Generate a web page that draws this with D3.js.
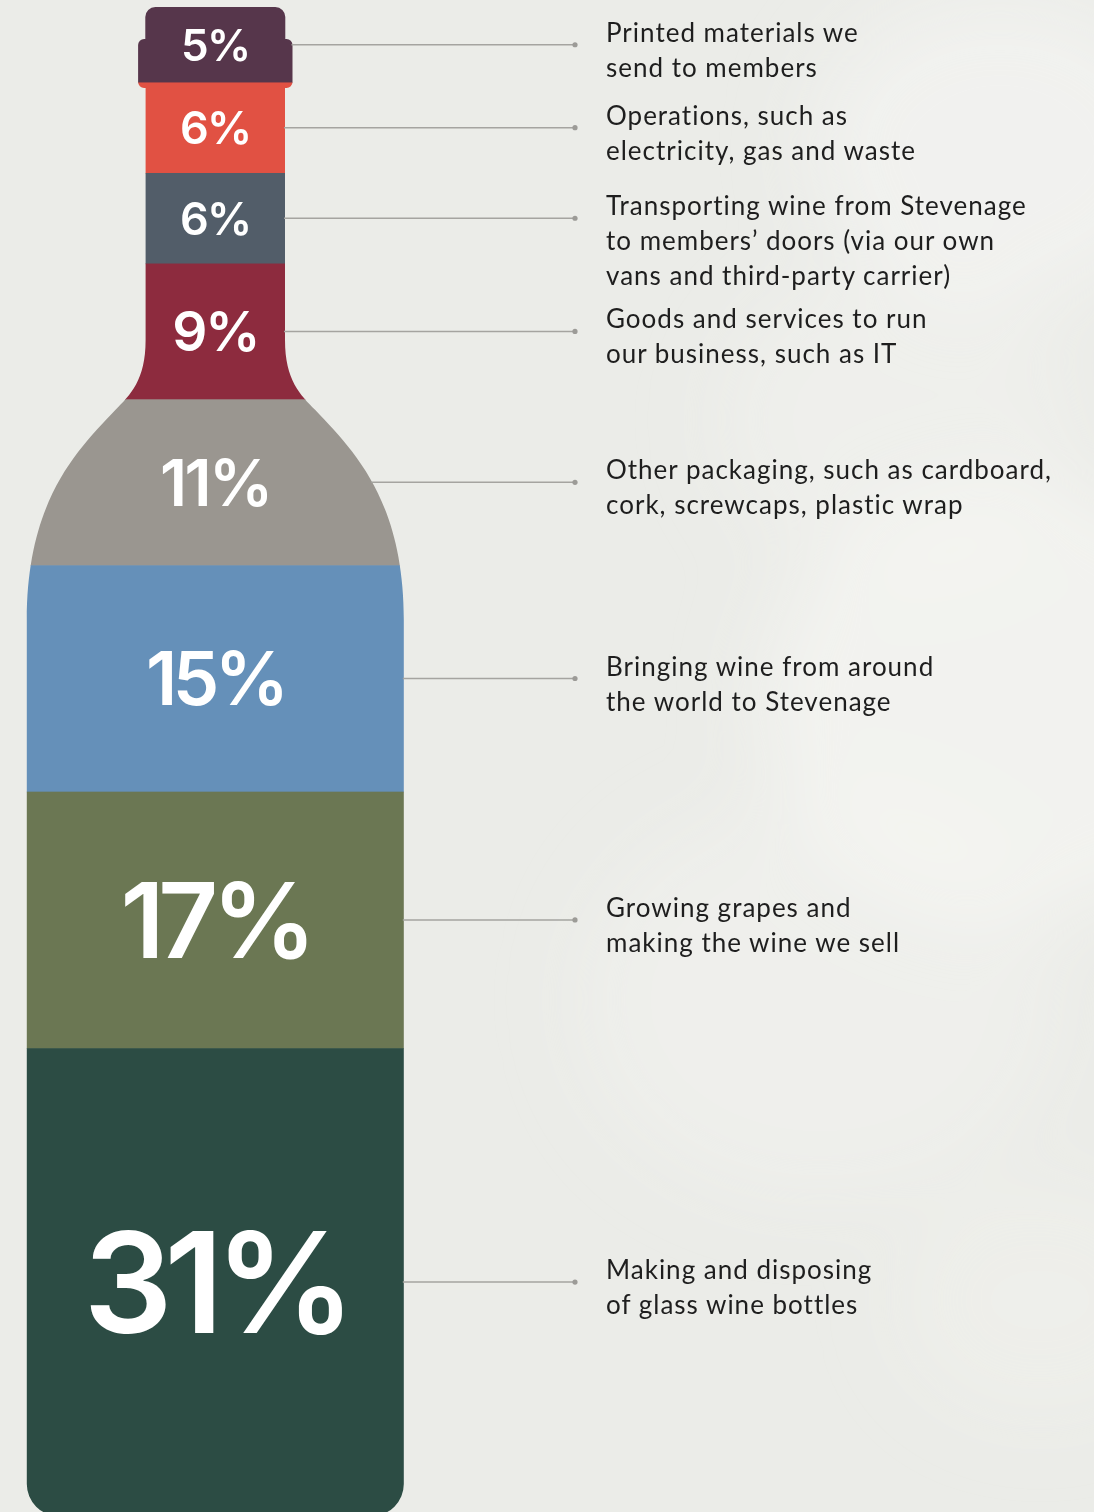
<!DOCTYPE html>
<html>
<head>
<meta charset="utf-8">
<script src="https://cdn.jsdelivr.net/npm/d3@7"></script>
<style>
  html, body { margin: 0; padding: 0; background: #ebece8; }
  svg { display: block; }
</style>
</head>
<body>
<script>
// Carbon footprint by source, from the cap of the bottle down to its base
const categories = [
  "Printed materials", "Operations", "Outbound delivery", "Goods and services",
  "Other packaging", "Inbound shipping", "Grapes and winemaking", "Glass bottles"
];
const shares = [5, 6, 6, 9, 11, 15, 17, 31];
const shareLabels = ["5%", "6%", "6%", "9%", "11%", "15%", "17%", "31%"];
const descriptions = [
  ["Printed materials we", "send to members"],
  ["Operations, such as", "electricity, gas and waste"],
  ["Transporting wine from Stevenage", "to members\u2019 doors (via our own", "vans and third-party carrier)"],
  ["Goods and services to run", "our business, such as IT"],
  ["Other packaging, such as cardboard,", "cork, screwcaps, plastic wrap"],
  ["Bringing wine from around", "the world to Stevenage"],
  ["Growing grapes and", "making the wine we sell"],
  ["Making and disposing", "of glass wine bottles"]
];
const palette = ["#56364b", "#e15143", "#525d69", "#8d2b3e", "#9a9690", "#6590b9", "#6b7753", "#2c4c44"];

const W = 1094, H = 1512;
const svg = d3.select("body").append("svg").attr("width", W).attr("height", H);
const defs = svg.append("defs");

// ---- paper background ----
const bgBlur = defs.append("filter").attr("id", "soft").attr("x", "-50%").attr("y", "-50%").attr("width", "200%").attr("height", "200%");
bgBlur.append("feGaussianBlur").attr("stdDeviation", 40);
svg.append("rect").attr("width", W).attr("height", H).attr("fill", "#ebece8");
const blobs = svg.append("g").attr("filter", "url(#soft)");
[[1000, 150, 160, 0.55], [1020, 700, 220, 0.6], [820, 1000, 200, 0.35], [900, 420, 150, 0.35], [1040, 1300, 120, 0.25]]
  .forEach(([bx, by, br, op]) => blobs.append("ellipse")
    .attr("cx", bx).attr("cy", by).attr("rx", br * 1.2).attr("ry", br)
    .attr("fill", "#f6f6f4").attr("opacity", op));

// ---- scales ----
const y = d3.scaleLinear().domain([0, 100]).range([7, 1516]);
const ends = Array.from(d3.cumsum(shares));
const segs = shares.map((v, i) => ({
  i, v, label: shareLabels[i], text: descriptions[i], color: palette[i],
  y0: y(ends[i] - v), y1: y(ends[i])
}));
segs.forEach(s => s.mid = (s.y0 + s.y1) / 2);

// ---- bottle silhouette ----
const cx = 215.3;
const capHalf = 70, lipHalf = 77.2, neckHalf = 69.7, bodyHalf = 188.5;
const lipTop = 39, lipBottom = 88, baseY = 1516, baseR = 32;
const neckEnd = 340;
// right-hand shoulder as two cubic segments: [x offset, y]
const shoulderA = [[neckHalf, neckEnd], [neckHalf, 380], [85, 395], [100, 410]];
const shoulderB = [[100, 410], [138, 450], [bodyHalf, 500], [bodyHalf, 620]];

function cubicPt(P, t) {
  const u = 1 - t;
  const a = u * u * u, b = 3 * u * u * t, c = 3 * u * t * t, d = t * t * t;
  return [a * P[0][0] + b * P[1][0] + c * P[2][0] + d * P[3][0],
          a * P[0][1] + b * P[1][1] + c * P[2][1] + d * P[3][1]];
}

const bp = d3.path();
bp.moveTo(cx - neckHalf, 80);
bp.lineTo(cx + neckHalf, 80);
bp.lineTo(cx + neckHalf, neckEnd);
bp.bezierCurveTo(cx + shoulderA[1][0], shoulderA[1][1], cx + shoulderA[2][0], shoulderA[2][1], cx + shoulderA[3][0], shoulderA[3][1]);
bp.bezierCurveTo(cx + shoulderB[1][0], shoulderB[1][1], cx + shoulderB[2][0], shoulderB[2][1], cx + shoulderB[3][0], shoulderB[3][1]);
bp.lineTo(cx + bodyHalf, baseY - baseR);
bp.arcTo(cx + bodyHalf, baseY, cx + bodyHalf - baseR, baseY, baseR);
bp.lineTo(cx - bodyHalf + baseR, baseY);
bp.arcTo(cx - bodyHalf, baseY, cx - bodyHalf, baseY - baseR, baseR);
bp.lineTo(cx - bodyHalf, shoulderB[3][1]);
bp.bezierCurveTo(cx - shoulderB[2][0], shoulderB[2][1], cx - shoulderB[1][0], shoulderB[1][1], cx - shoulderB[0][0], shoulderB[0][1]);
bp.bezierCurveTo(cx - shoulderA[2][0], shoulderA[2][1], cx - shoulderA[1][0], shoulderA[1][1], cx - shoulderA[0][0], shoulderA[0][1]);
bp.closePath();

const clip = defs.append("clipPath").attr("id", "bottle");
clip.append("rect").attr("x", cx - capHalf).attr("y", y(0)).attr("width", capHalf * 2).attr("height", 44).attr("rx", 10);
clip.append("rect").attr("x", cx - lipHalf).attr("y", lipTop).attr("width", lipHalf * 2).attr("height", lipBottom - lipTop).attr("rx", 6);
clip.append("path").attr("d", bp.toString());

// half-width of the silhouette at a given height, for the leader lines
const profile = [[lipTop, lipHalf], [lipBottom, lipHalf], [lipBottom + 0.01, neckHalf], [neckEnd - 0.01, neckHalf]];
d3.range(0, 1.0001, 0.02).forEach(t => { const p = cubicPt(shoulderA, t); profile.push([p[1], p[0]]); });
d3.range(0.02, 1.0001, 0.02).forEach(t => { const p = cubicPt(shoulderB, t); profile.push([p[1], p[0]]); });
profile.push([baseY, bodyHalf]);
const halfWidth = d3.scaleLinear().domain(profile.map(d => d[0])).range(profile.map(d => d[1])).clamp(true);

// ---- stacked segments clipped to the bottle ----
const bottle = svg.append("g").attr("clip-path", "url(#bottle)");
bottle.selectAll("rect").data(segs).join("rect")
  .attr("x", cx - bodyHalf - 5)
  .attr("width", bodyHalf * 2 + 10)
  .attr("y", d => d.y0)
  .attr("height", d => d.y1 - d.y0 + (d.i === segs.length - 1 ? 10 : 0.6))
  .attr("fill", d => d.color);

// ---- share labels ----
const labelSize = d3.scaleLinear().domain([5, 6, 9, 11, 15, 17, 31]).range([44, 45, 55, 64, 74, 104, 140]);
const capRatio = 0.727;
svg.append("g").selectAll("text").data(segs).join("text")
  .attr("x", cx)
  .attr("y", d => d.mid + labelSize(d.v) * capRatio / 2)
  .attr("text-anchor", "middle")
  .attr("font-family", "Inter, 'Noto Sans', sans-serif")
  .attr("font-weight", 600)
  .attr("letter-spacing", d => d.v >= 15 ? "-0.06em" : "-0.04em")
  .attr("font-size", d => labelSize(d.v))
  .attr("fill", "#ffffff")
  .text(d => d.label);

// ---- leader lines ----
const lineEnd = 575;
const leaders = svg.append("g");
leaders.selectAll("line").data(segs).join("line")
  .attr("x1", d => cx + halfWidth(d.mid) - 1)
  .attr("x2", lineEnd)
  .attr("y1", d => d.mid).attr("y2", d => d.mid)
  .attr("stroke", "#a5a4a0").attr("stroke-width", 1.5);
leaders.selectAll("circle").data(segs).join("circle")
  .attr("cx", lineEnd).attr("cy", d => d.mid).attr("r", 2.6)
  .attr("fill", "#9c9b97");

// ---- descriptions ----
const textX = 606, lineGap = 35;
const desc = svg.append("g")
  .attr("font-family", "Lato, 'Noto Sans', sans-serif")
  .attr("font-size", 26)
  .attr("letter-spacing", "1px")
  .attr("fill", "#1e1e1e");
desc.selectAll("text").data(segs).join("text")
  .attr("x", textX)
  .attr("y", d => d.mid - 3)
  .selectAll("tspan").data(d => d.text).join("tspan")
  .attr("x", textX)
  .attr("dy", (t, j) => j === 0 ? 0 : lineGap)
  .text(t => t);
</script>
</body>
</html>
